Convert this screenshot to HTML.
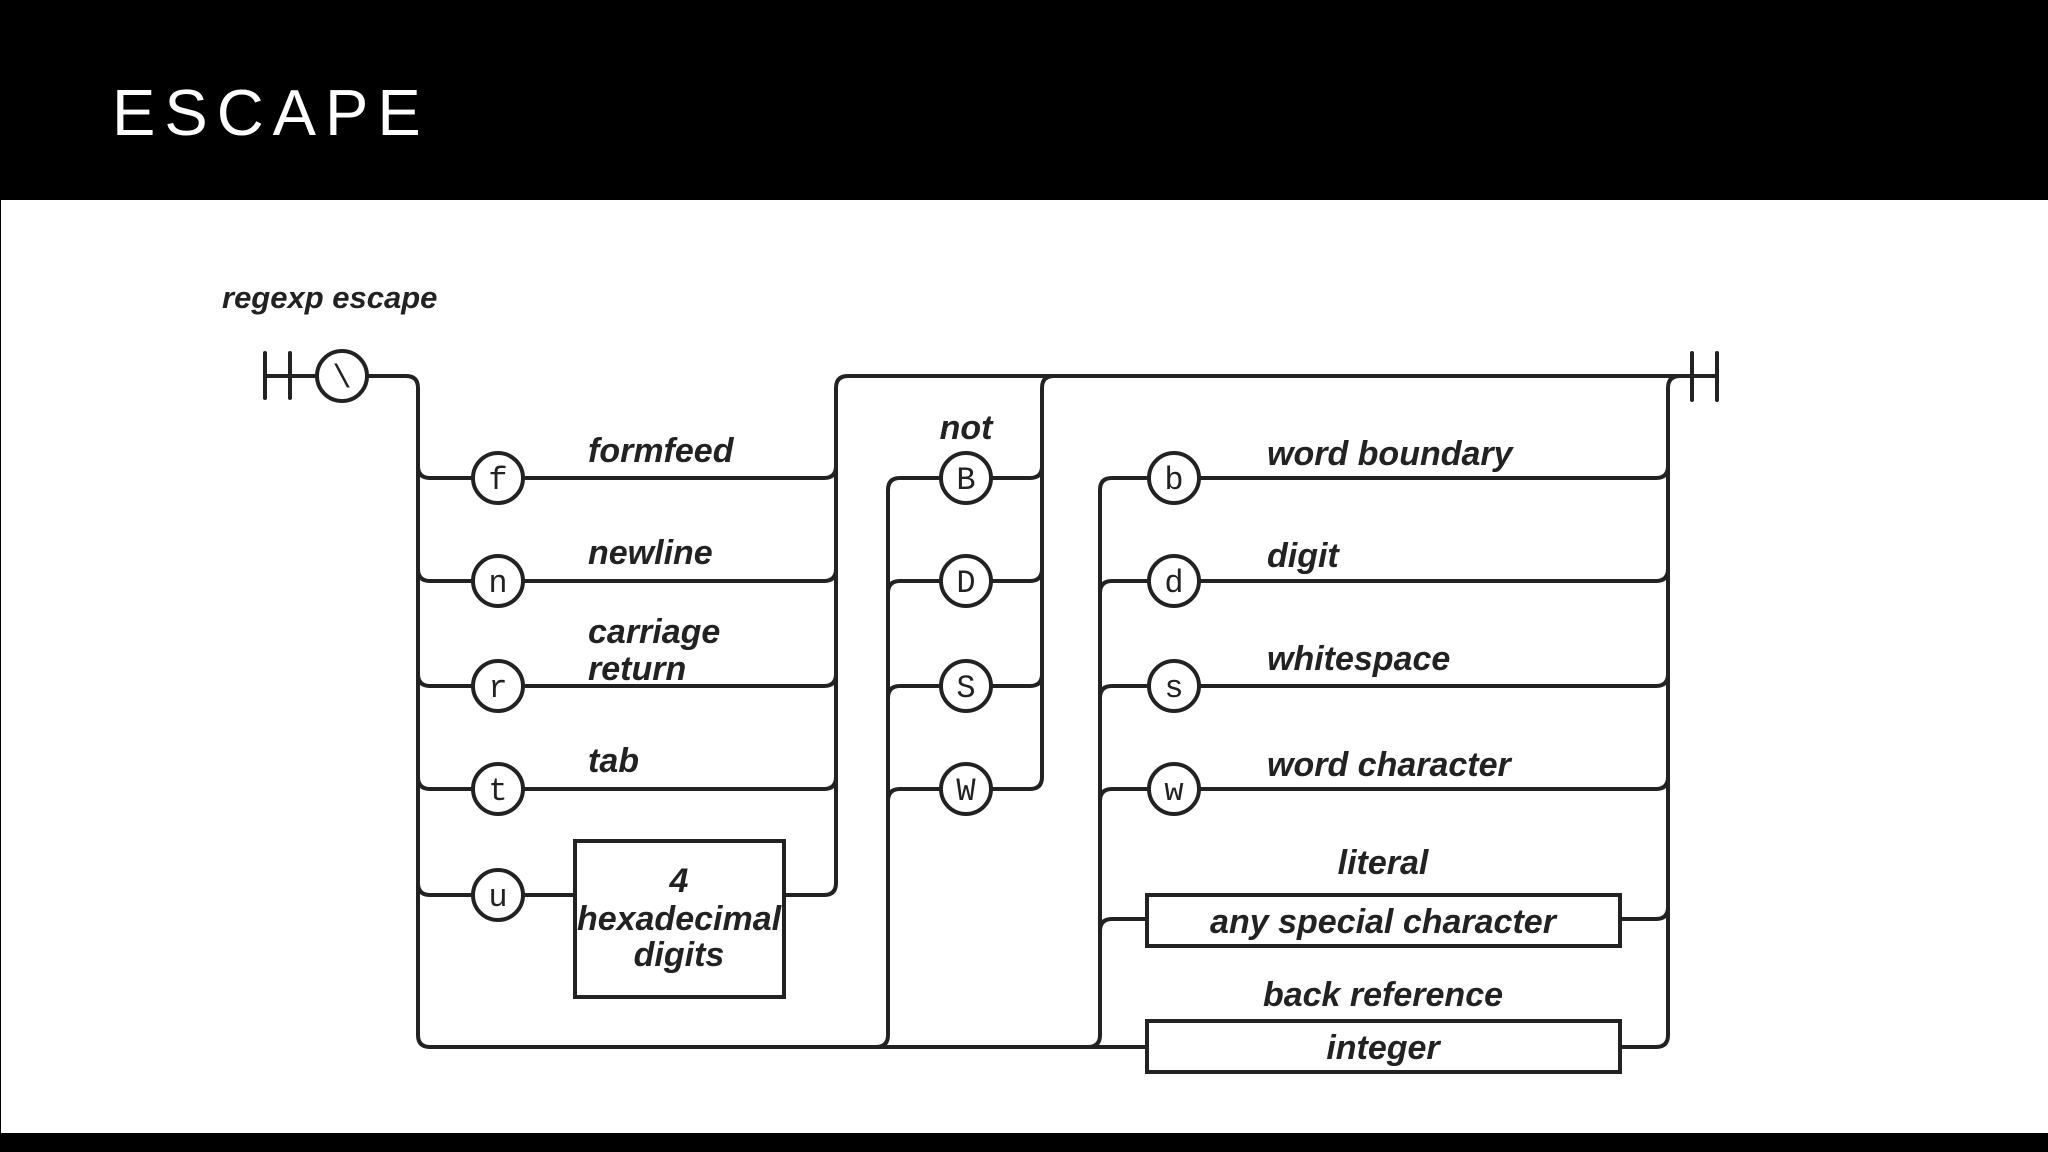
<!DOCTYPE html>
<html><head><meta charset="utf-8"><style>
html,body{margin:0;padding:0;background:#fff;}
body{width:2048px;height:1152px;overflow:hidden;position:relative;}
.hdr{position:absolute;left:0;top:0;width:2048px;height:200px;background:#000;}
.ttl{position:absolute;left:112px;top:80px;font:300 65px/1 "Liberation Sans",sans-serif;color:#fff;letter-spacing:9px;}
.ftr{position:absolute;left:0;top:1133px;width:2048px;height:19px;background:#000;}
.lb{position:absolute;left:0;top:200px;width:1px;height:933px;background:#000;}
svg{position:absolute;left:0;top:0;}
.l{font-family:"Liberation Sans Narrow","Liberation Sans",sans-serif;font-style:italic;font-weight:bold;font-size:34px;fill:#222;}
.c{font-family:"Liberation Mono",monospace;font-size:32px;fill:#222;}
</style></head><body>
<div class="hdr"></div><div class="ttl">ESCAPE</div><div class="ftr"></div><div class="lb"></div>
<svg width="2048" height="1152" viewBox="0 0 2048 1152">
<g fill="none" stroke="#222" stroke-width="4" stroke-linecap="round">
<!-- start -->
<path d="M265 353V398M290 353V398M265 376H317"/>
<circle cx="342" cy="376" r="25" fill="#fff"/>
<path d="M367 376H406Q418 376 418 388V1035Q418 1047 430 1047H1147"/>
<!-- section 1 rows -->
<path d="M418 466Q418 478 430 478H473M523 478H824Q836 478 836 466"/>
<path d="M418 569Q418 581 430 581H473M523 581H824Q836 581 836 569"/>
<path d="M418 674Q418 686 430 686H473M523 686H824Q836 686 836 674"/>
<path d="M418 777Q418 789 430 789H473M523 789H824Q836 789 836 777"/>
<path d="M418 883Q418 895 430 895H473M523 895H575M784 895H824Q836 895 836 883"/>
<path d="M836 883V388Q836 376 848 376H1717M1692 353V400M1717 353V400"/>
<!-- section 2 -->
<path d="M876 1047Q888 1047 888 1035V490Q888 478 900 478H941"/>
<path d="M888 593Q888 581 900 581H941M888 698Q888 686 900 686H941M888 801Q888 789 900 789H941"/>
<path d="M991 478H1030Q1042 478 1042 466M991 581H1030Q1042 581 1042 569M991 686H1030Q1042 686 1042 674M991 789H1030Q1042 789 1042 777V388Q1042 376 1054 376"/>
<!-- section 3 -->
<path d="M1088 1047Q1100 1047 1100 1035V490Q1100 478 1112 478H1149"/>
<path d="M1100 593Q1100 581 1112 581H1149M1100 698Q1100 686 1112 686H1149M1100 801Q1100 789 1112 789H1149M1100 931Q1100 919 1112 919H1147"/>
<path d="M1199 478H1656Q1668 478 1668 466M1199 581H1656Q1668 581 1668 569M1199 686H1656Q1668 686 1668 674M1199 789H1656Q1668 789 1668 777M1620 919H1656Q1668 919 1668 907"/>
<path d="M1620 1047H1656Q1668 1047 1668 1035V388Q1668 376 1680 376"/>
<!-- boxes -->
<rect x="575" y="841" width="209" height="156" fill="#fff"/>
<rect x="1147" y="895" width="473" height="51" fill="#fff"/>
<rect x="1147" y="1021" width="473" height="51" fill="#fff"/>
<!-- circles -->
<g fill="#fff">
<circle cx="498" cy="478" r="25"/><circle cx="498" cy="581" r="25"/><circle cx="498" cy="686" r="25"/><circle cx="498" cy="789" r="25"/><circle cx="498" cy="895" r="25"/>
<circle cx="966" cy="478" r="25"/><circle cx="966" cy="581" r="25"/><circle cx="966" cy="686" r="25"/><circle cx="966" cy="789" r="25"/>
<circle cx="1174" cy="478" r="25"/><circle cx="1174" cy="581" r="25"/><circle cx="1174" cy="686" r="25"/><circle cx="1174" cy="789" r="25"/>
</g>
</g>
<g class="c" text-anchor="middle">
<text x="342" y="387">\</text>
<text x="498" y="489">f</text><text x="498" y="592">n</text><text x="498" y="697">r</text><text x="498" y="800">t</text><text x="498" y="906">u</text>
<text x="966" y="489">B</text><text x="966" y="592">D</text><text x="966" y="697">S</text><text x="966" y="800">W</text>
<text x="1174" y="489">b</text><text x="1174" y="592">d</text><text x="1174" y="697">s</text><text x="1174" y="800">w</text>
</g>
<g class="l">
<text x="222" y="308" font-size="31">regexp escape</text>
<text x="588" y="462">formfeed</text>
<text x="588" y="564">newline</text>
<text x="588" y="643">carriage</text>
<text x="588" y="680">return</text>
<text x="588" y="772">tab</text>
<text x="1267" y="465">word boundary</text>
<text x="1267" y="567">digit</text>
<text x="1267" y="670">whitespace</text>
<text x="1267" y="776">word character</text>
</g>
<g class="l" text-anchor="middle">
<text x="966" y="439">not</text>
<text x="679" y="892">4</text>
<text x="679" y="930">hexadecimal</text>
<text x="679" y="966">digits</text>
<text x="1383" y="874">literal</text>
<text x="1383" y="933">any special character</text>
<text x="1383" y="1006">back reference</text>
<text x="1383" y="1059">integer</text>
</g>
</svg>
</body></html>
